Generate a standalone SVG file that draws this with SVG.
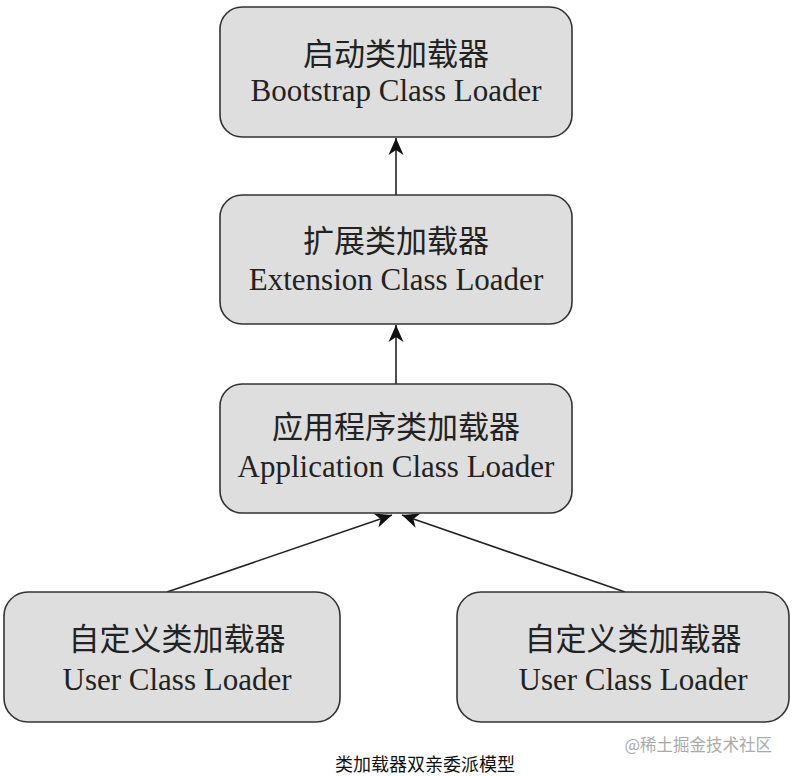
<svg xmlns="http://www.w3.org/2000/svg" width="794" height="776" viewBox="0 0 794 776">
<style>
.box{fill:#dedede;stroke:#333;stroke-width:1.6}
.zh{font-family:"Noto Sans CJK SC","Noto Sans CJK TC",sans-serif;font-size:31px;fill:#222;text-anchor:middle}
.en{font-family:"Liberation Serif","Times New Roman",serif;font-size:31px;fill:#222;text-anchor:middle}
.line{stroke:#222;stroke-width:1.6;fill:none}
</style>
<defs>
<marker id="arr" markerUnits="userSpaceOnUse" markerWidth="20" markerHeight="18" viewBox="-18 -9 19 18" refX="0" refY="0" orient="auto">
<path d="M0,0 L-17,-7.5 L-12,0 L-17,7.5 Z" fill="#111"/>
</marker>
</defs>
<rect width="794" height="776" fill="#fff"/>
<g id="connectors">
<line class="line" x1="396" y1="195" x2="396" y2="138" marker-end="url(#arr)"/>
<line class="line" x1="396" y1="384" x2="396" y2="325" marker-end="url(#arr)"/>
<line class="line" x1="167" y1="592" x2="392" y2="515" marker-end="url(#arr)"/>
<line class="line" x1="625" y1="592" x2="402" y2="515" marker-end="url(#arr)"/>
</g>
<g id="bootstrap">
<rect class="box" x="220" y="7" width="352" height="130" rx="22"/>
<text class="zh" x="396" y="65">启动类加载器</text>
<text class="en" x="396" y="101">Bootstrap Class Loader</text>
</g>
<g id="extension">
<rect class="box" x="220" y="195" width="352" height="129" rx="22"/>
<text class="zh" x="396" y="252">扩展类加载器</text>
<text class="en" x="396" y="290">Extension Class Loader</text>
</g>
<g id="application">
<rect class="box" x="220" y="384" width="352" height="129" rx="22"/>
<text class="zh" x="396" y="438">应用程序类加载器</text>
<text class="en" x="396" y="477">Application Class Loader</text>
</g>
<g id="user1">
<rect class="box" x="4" y="592" width="336" height="130" rx="24"/>
<text class="zh" x="177" y="650">自定义类加载器</text>
<text class="en" x="177" y="690">User Class Loader</text>
</g>
<g id="user2">
<rect class="box" x="457" y="592" width="332" height="130" rx="24"/>
<text class="zh" x="633" y="650">自定义类加载器</text>
<text class="en" x="633" y="690">User Class Loader</text>
</g>
<text x="335" y="771" font-family="Noto Sans CJK SC, sans-serif" font-size="18" fill="#111">类加载器双亲委派模型</text>
<text x="772" y="751" text-anchor="end" font-family="Noto Sans CJK SC, sans-serif" font-size="16.5" fill="#aaa">@稀土掘金技术社区</text>
</svg>
